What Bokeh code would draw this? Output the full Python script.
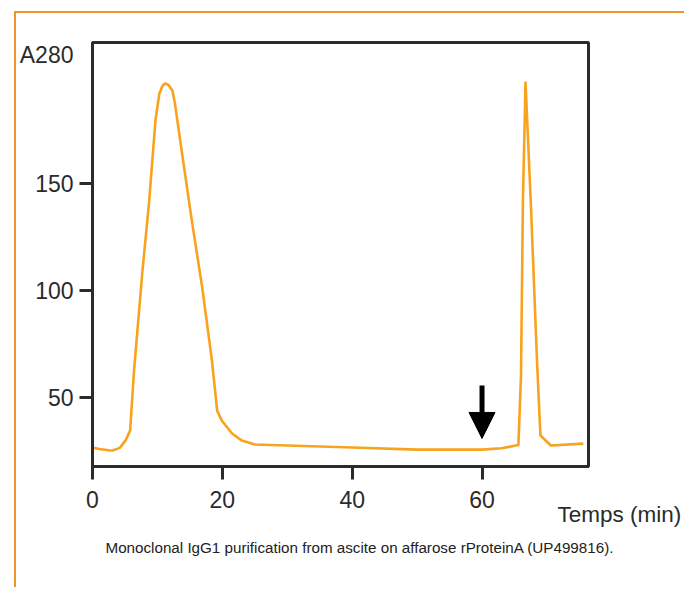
from bokeh.plotting import figure
from bokeh.models import (Range1d, FixedTicker, Arrow, NormalHead, Title,
                          LinearAxis, ColumnDataSource)
from bokeh.embed import file_html
from bokeh.resources import INLINE

# ---- data ----
time_min = [0.0, 1.0, 2.5, 3.1, 4.2, 5.1, 5.8, 6.4, 7.7, 8.7, 9.7, 10.3, 10.8,
            11.2, 11.7, 12.3, 12.7, 13.8, 15.3, 16.9, 18.4, 19.2, 19.9, 21.5,
            23.0, 25.0, 30.0, 40.0, 50.0, 60.0, 63.0, 65.6, 66.0, 66.3, 66.7,
            67.5, 68.5, 69.0, 70.6, 75.6]
a280 = [26.7, 26.0, 25.4, 25.3, 26.5, 30.0, 34.6, 62.6, 109.4, 140.7, 179.5,
        192.1, 195.8, 196.8, 196.0, 193.5, 187.4, 164.0, 132.7, 101.4, 67.3,
        43.9, 39.3, 33.2, 29.9, 28.1, 27.6, 26.7, 25.7, 25.7, 26.3, 27.8, 60.0,
        142.0, 197.2, 142.0, 65.0, 32.3, 27.6, 28.5]

x_ticks = [0, 20, 40, 60]
y_ticks = [50, 100, 150]
y_name_at = 210          # where the "A280" unit name sits on the y scale
arrow_time = 60
arrow_from = 55.6
arrow_to = 30.9

x_range = (0, 76.4)
y_range = (17.8, 215.9)

y_label = "A280"
x_label = "Temps (min)"
caption = "Monoclonal IgG1 purification from ascite on affarose rProteinA (UP499816)."

FONT = "Liberation Sans"
DARK = "#2b2b2b"
CURVE = "#F8A31E"
BORDER = "#F0932B"

# canvas placed at page (16, 13) inside an orange top/left rule
OX, OY = 16, 13
W, H = 686 - OX, 589 - OY
p = figure(width=W, height=H, output_backend="svg", toolbar_location=None,
           x_range=Range1d(*x_range), y_range=Range1d(*y_range),
           min_border_left=90 - OX, min_border_right=W - (588 - OX),
           min_border_top=42 - OY, min_border_bottom=H - (466 - OY))
p.margin = (11, 0, 0, 14)
p.styles = {"border-top": f"2px solid {BORDER}",
            "border-left": f"2px solid {BORDER}"}
p.background_fill_color = "white"
p.border_fill_color = "white"
p.outline_line_color = DARK
p.outline_line_width = 3
p.grid.visible = False

for ax in (p.xaxis[0], p.yaxis[0]):
    ax.axis_line_color = DARK
    ax.axis_line_width = 3
    ax.major_tick_line_color = DARK
    ax.major_tick_line_width = 3
    ax.major_tick_in = 0
    ax.major_tick_out = 13
    ax.minor_tick_line_color = None
    ax.major_label_text_font = FONT
    ax.major_label_text_font_size = "23px"
    ax.major_label_text_color = DARK

p.xaxis[0].ticker = FixedTicker(ticks=x_ticks)
p.xaxis[0].major_label_standoff = 11

# y axis: visible tick marks drawn as "minor" ticks, the unit name as an extra label
yax = p.yaxis[0]
yax.ticker = FixedTicker(ticks=y_ticks + [y_name_at], minor_ticks=y_ticks)
yax.major_label_overrides = {y_name_at: y_label}
yax.major_tick_line_color = None
yax.minor_tick_line_color = DARK
yax.minor_tick_line_width = 3
yax.minor_tick_in = 0
yax.minor_tick_out = 13
yax.major_label_standoff = 6

# x-axis name, placed at the bottom-right like in the original
p.extra_y_ranges = {"lab": Range1d(0, 1)}
lab_ax = LinearAxis(y_range_name="lab", ticker=FixedTicker(ticks=[0]),
                    major_label_overrides={0: "\n\n\n" + x_label},
                    axis_line_color=None, major_tick_line_color=None,
                    minor_tick_line_color=None, major_tick_in=0, major_tick_out=0,
                    major_label_standoff=-31, major_label_text_font=FONT,
                    major_label_text_font_size="22.5px",
                    major_label_text_line_height=1.27,
                    major_label_text_color=DARK)
p.add_layout(lab_ax, "right")

p.add_layout(Title(text=caption, align="left", offset=13, text_font=FONT,
                   text_font_size="15.2px", text_font_style="normal",
                   text_color="#222222", standoff=52), "below")

src = ColumnDataSource(data=dict(t=time_min, a=a280))
p.line("t", "a", source=src, line_color=CURVE, line_width=2.6,
       line_join="round")

p.add_layout(Arrow(end=NormalHead(size=26, fill_color="black", line_color="black"),
                   x_start=arrow_time, y_start=arrow_from,
                   x_end=arrow_time, y_end=arrow_to,
                   line_color="black", line_width=5))

open("out.html", "w").write(file_html(p, INLINE))
